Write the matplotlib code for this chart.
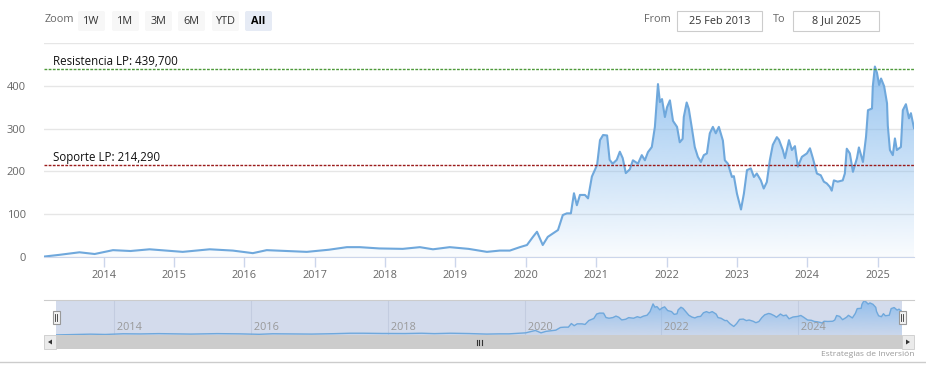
import numpy as np
import pandas as pd
import matplotlib
matplotlib.use('Agg')
import matplotlib.pyplot as plt
import matplotlib.dates as mdates
from matplotlib.patches import Rectangle, FancyBboxPatch, Polygon
from matplotlib.colors import to_rgb

# datos
fechas = [
    "2013-02-25", "2013-05-15", "2013-08-28", "2013-11-15", "2014-02-18", "2014-05-20",
    "2014-08-27", "2014-11-20", "2015-02-15", "2015-07-05", "2015-11-02", "2016-02-14",
    "2016-04-26", "2016-08-15", "2016-11-20", "2017-03-15", "2017-06-16", "2017-08-22",
    "2017-12-01", "2018-04-02", "2018-06-30", "2018-09-06", "2018-12-02", "2019-03-10",
    "2019-06-13", "2019-08-19", "2019-10-10", "2019-12-01", "2020-01-07", "2020-02-07",
    "2020-02-28", "2020-03-29", "2020-04-24", "2020-06-16", "2020-07-11", "2020-08-01",
    "2020-08-22", "2020-09-07", "2020-09-22", "2020-10-08", "2020-11-03", "2020-11-19",
    "2020-12-09", "2021-01-05", "2021-01-20", "2021-02-05", "2021-02-26", "2021-03-11",
    "2021-03-27", "2021-04-17", "2021-05-03", "2021-05-18", "2021-06-03", "2021-06-24",
    "2021-07-10", "2021-08-05", "2021-08-25", "2021-09-10", "2021-09-26", "2021-10-16",
    "2021-11-01", "2021-11-17", "2021-11-27", "2021-12-08", "2021-12-23", "2022-01-03",
    "2022-01-18", "2022-02-03", "2022-02-24", "2022-03-10", "2022-03-25", "2022-03-31",
    "2022-04-15", "2022-04-26", "2022-05-11", "2022-05-27", "2022-06-12", "2022-06-28",
    "2022-07-13", "2022-07-29", "2022-08-13", "2022-08-29", "2022-09-13", "2022-09-29",
    "2022-10-20", "2022-10-30", "2022-11-15", "2022-12-06", "2022-12-16", "2023-01-01",
    "2023-01-22", "2023-02-06", "2023-02-22", "2023-03-14", "2023-03-30", "2023-04-14",
    "2023-05-05", "2023-05-20", "2023-06-05", "2023-06-21", "2023-07-06", "2023-07-27",
    "2023-08-07", "2023-08-27", "2023-09-07", "2023-09-28", "2023-10-13", "2023-10-29",
    "2023-11-13", "2023-12-04", "2023-12-30", "2024-01-15", "2024-01-30", "2024-02-20",
    "2024-03-11", "2024-03-27", "2024-04-11", "2024-04-27", "2024-05-07", "2024-05-18",
    "2024-06-07", "2024-07-03", "2024-07-14", "2024-07-24", "2024-08-09", "2024-08-25",
    "2024-09-15", "2024-09-25", "2024-10-16", "2024-11-01", "2024-11-11", "2024-12-02",
    "2024-12-06", "2024-12-17", "2024-12-28", "2025-01-08", "2025-01-18", "2025-02-03",
    "2025-02-18", "2025-02-22", "2025-03-05", "2025-03-20", "2025-03-31", "2025-04-10",
    "2025-05-01", "2025-05-11", "2025-05-27", "2025-06-12", "2025-06-22", "2025-07-08",
]
precios = [
    1, 5, 11, 7, 16, 14,
    18, 15, 12, 18, 15, 9,
    16, 14, 12, 17, 23, 23,
    20, 19, 23, 18, 23, 19,
    12, 15, 15, 23, 28, 47,
    59, 28, 47, 63, 98, 102,
    102, 149, 121, 145, 145, 137,
    188, 215, 273, 285, 284, 227,
    218, 227, 246, 231, 196, 205,
    226, 218, 238, 226, 245, 257,
    304, 404, 362, 369, 327, 350,
    366, 318, 304, 268, 276, 327,
    361, 346, 304, 257, 234, 222,
    238, 242, 289, 304, 289, 304,
    272, 226, 218, 187, 189, 148,
    111, 148, 203, 207, 187, 195,
    179, 160, 175, 227, 262, 280,
    274, 250, 231, 273, 250, 259,
    211, 234, 242, 254, 231, 195,
    191, 176, 172, 164, 155, 179,
    176, 179, 195, 253, 242, 199,
    231, 256, 222, 281, 343, 347,
    398, 445, 430, 402, 417, 399,
    359, 307, 250, 238, 277, 250,
    257, 343, 357, 324, 336, 301,
]

resistencia = 439.700
soporte = 214.290
desde = "25 Feb 2013"
hasta = "8 Jul 2025"
botones = ["1W", "1M", "3M", "6M", "YTD", "All"]

W, H = 926, 377
plt.rcParams['font.family'] = ['Open Sans', 'DejaVu Sans']

fig = plt.figure(figsize=(W / 100, H / 100), dpi=100)


def caja(x0, y0, x1, y1):
    # pixeles -> fraccion de figura
    return [x0 / W, 1 - y1 / H, (x1 - x0) / W, (y1 - y0) / H]


x = mdates.date2num(pd.to_datetime(fechas))
y = np.array(precios, dtype=float)
color_linea = '#6fa8dc'


def relleno_degradado(ax, x, y, ytop, a_top, a_bot):
    poly = ax.fill_between(x, y, 0, color='none', lw=0)
    grad = np.zeros((256, 1, 4))
    grad[:, 0, :3] = to_rgb('#7cb5ec')
    grad[:, 0, 3] = np.linspace(a_bot, a_top, 256)
    im = ax.imshow(grad, origin='lower', aspect='auto',
                   extent=[x[0], x[-1], 0, ytop], zorder=1)
    im.set_clip_path(poly.get_paths()[0], ax.transData)


# grafico principal
ax = fig.add_axes(caja(44, 43, 914, 257))
relleno_degradado(ax, x, y, 450, 0.8, 0.04)
ax.plot(x, y, color=color_linea, lw=1.5, zorder=3)
ax.set_xlim(x[0], x[-1])
ax.set_ylim(0, 500)
ax.set_yticks([0, 100, 200, 300, 400, 500])
ax.set_yticklabels(['0', '100', '200', '300', '400', ''])
ax.grid(axis='y', color='#e6e6e6', lw=1)
ax.set_axisbelow(True)
for s in ['top', 'right', 'left']:
    ax.spines[s].set_visible(False)
ax.spines['bottom'].set_color('#ccd6eb')
ax.xaxis.set_major_locator(mdates.YearLocator())
ax.xaxis.set_major_formatter(mdates.DateFormatter('%Y'))
ax.tick_params(axis='x', colors='#ccd6eb', length=7, width=1, labelcolor='#666666',
               labelsize=7.8, pad=2)
ax.tick_params(axis='y', length=0, labelcolor='#666666', labelsize=8, pad=13)

ax.axhline(resistencia, color='#4e9a3a', lw=1, ls=(0, (2, 1)), zorder=4)
ax.axhline(soporte, color='#9b1c1c', lw=1, ls=(0, (2, 1)), zorder=4)
ax.text(x[0] + 45, resistencia + 3, 'Resistencia LP: 439,700', fontsize=8.3,
        color='#111111', va='bottom', ha='left', zorder=5)
ax.text(x[0] + 45, soporte + 3, 'Soporte LP: 214,290', fontsize=8.3,
        color='#111111', va='bottom', ha='left', zorder=5)

# navegador
nav = fig.add_axes(caja(56, 300, 902, 335))
nav.set_facecolor('#d3dbec')
relleno_degradado(nav, x, y, 450, 0.75, 0.1)
nav.plot(x, y, color=color_linea, lw=1, zorder=3)
nav.set_xlim(x[0], x[-1])
nav.set_ylim(0, 455)
nav.set_yticks([])
for s in nav.spines.values():
    s.set_visible(False)
nav.xaxis.set_major_locator(mdates.YearLocator(2))
nav.grid(axis='x', color='#c3cce0', lw=0.8)
nav.set_axisbelow(True)
nav.tick_params(axis='x', length=0, labelbottom=False)
for t in nav.get_xticks():
    if x[0] <= t <= x[-1]:
        nav.text(t, 0.06, ' ' + mdates.num2date(t).strftime('%Y'),
                 transform=nav.get_xaxis_transform(),
                 fontsize=7.8, color='#999999', ha='left', va='bottom', zorder=4)

# capa de interfaz en pixeles
ui = fig.add_axes([0, 0, 1, 1])
ui.set_xlim(0, W)
ui.set_ylim(H, 0)
ui.axis('off')

ui.text(45, 20, 'Zoom', fontsize=7.8, color='#666666', va='center', ha='left')
bx = [77, 111, 144, 177, 211, 244]
for b, x0 in zip(botones, bx):
    sel = b == 'All'
    ui.add_patch(FancyBboxPatch((x0 + 1, 11), 27, 20, boxstyle='round,pad=0,rounding_size=2',
                                fc='#e6ebf5' if sel else '#f7f7f7', ec='none'))
    ui.text(x0 + 14.5, 21, b, fontsize=7.8, color='#000000' if sel else '#333333',
            fontweight='bold' if sel else 'normal', ha='center', va='center')

ui.text(657, 20, 'From', fontsize=7.8, color='#666666', ha='center', va='center')
ui.add_patch(Rectangle((677, 11), 85, 20, fc='white', ec='#cccccc', lw=0.8))
ui.text(719.5, 21, desde, fontsize=7.8, color='#333333', ha='center', va='center')
ui.text(779, 20, 'To', fontsize=7.8, color='#666666', ha='center', va='center')
ui.add_patch(Rectangle((793, 11), 86, 20, fc='white', ec='#cccccc', lw=0.8))
ui.text(836, 21, hasta, fontsize=7.8, color='#333333', ha='center', va='center')

# contorno del navegador
ui.plot([44, 914], [300, 300], color='#cccccc', lw=0.8)

# barra de desplazamiento
ui.add_patch(Rectangle((44, 335), 870, 14, fc='#f2f2f2', ec='none'))
ui.add_patch(Rectangle((56, 335), 846, 14, fc='#cccccc', ec='none'))
for bx0 in (44, 902):
    ui.add_patch(Rectangle((bx0, 335), 12, 14, fc='#ebebeb', ec='#cccccc', lw=0.6))
ui.add_patch(Polygon([[48, 342], [52, 339.5], [52, 344.5]], closed=True, fc='#333333', ec='none'))
ui.add_patch(Polygon([[910, 342], [906, 339.5], [906, 344.5]], closed=True, fc='#333333', ec='none'))
for gx in (476.5, 479, 481.5):
    ui.plot([gx, gx], [339.5, 344.5], color='#333333', lw=0.8)

# asas del navegador
for hx in (52.5, 898.5):
    ui.add_patch(Rectangle((hx, 311), 7, 13, fc='#f2f2f2', ec='#999999', lw=0.8))
    ui.plot([hx + 2.5, hx + 2.5], [314, 321], color='#333333', lw=0.6)
    ui.plot([hx + 4.5, hx + 4.5], [314, 321], color='#333333', lw=0.6)

ui.plot([0, W], [362, 362], color='#cccccc', lw=1)
ui.text(914, 354, 'Estrategias de Inversión', fontsize=6, color='#999999',
        ha='right', va='center')

fig.savefig('out.png', dpi=100)
